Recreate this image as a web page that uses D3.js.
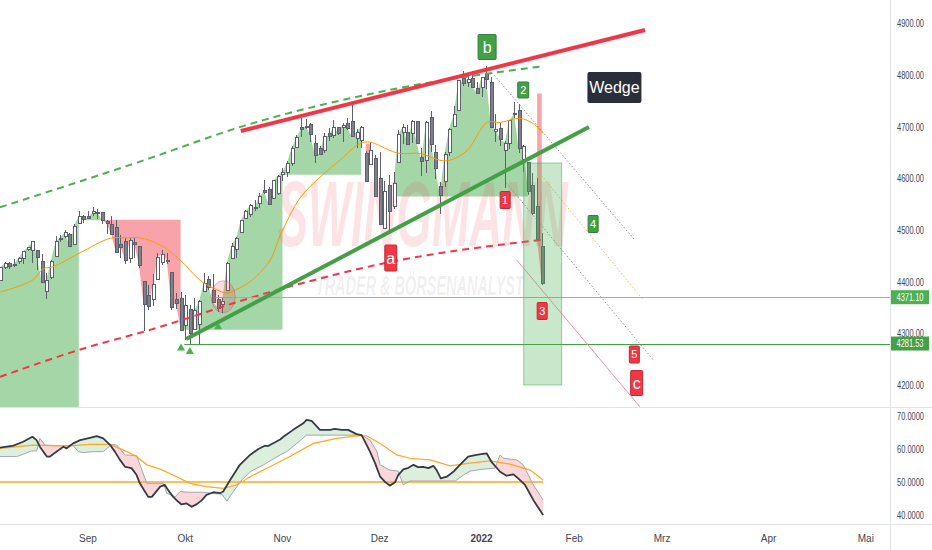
<!DOCTYPE html>
<html><head><meta charset="utf-8">
<script src="https://cdn.jsdelivr.net/npm/d3@7"></script>
<style>
html,body{margin:0;padding:0;background:#fff;overflow:hidden;}
svg{display:block;}
</style></head><body>
<svg id="c" width="932" height="550"></svg>
<script>
// ---------------- DATA ----------------
const startIdx = -20; // bar index of first candle (0 = 1 Sep 2021)
const dates = ["2021-08-04","2021-08-05","2021-08-06","2021-08-09","2021-08-10","2021-08-11","2021-08-12","2021-08-13","2021-08-16","2021-08-17","2021-08-18","2021-08-19","2021-08-20","2021-08-23","2021-08-24","2021-08-25","2021-08-26","2021-08-27","2021-08-30","2021-08-31",
"2021-09-01","2021-09-02","2021-09-03","2021-09-07","2021-09-08","2021-09-09","2021-09-10","2021-09-13","2021-09-14","2021-09-15","2021-09-16","2021-09-17","2021-09-20","2021-09-21","2021-09-22","2021-09-23","2021-09-24","2021-09-27","2021-09-28","2021-09-29","2021-09-30",
"2021-10-01","2021-10-04","2021-10-05","2021-10-06","2021-10-07","2021-10-08","2021-10-11","2021-10-12","2021-10-13","2021-10-14","2021-10-15","2021-10-18","2021-10-19","2021-10-20","2021-10-21","2021-10-22","2021-10-25","2021-10-26","2021-10-27","2021-10-28","2021-10-29",
"2021-11-01","2021-11-02","2021-11-03","2021-11-04","2021-11-05","2021-11-08","2021-11-09","2021-11-10","2021-11-11","2021-11-12","2021-11-15","2021-11-16","2021-11-17","2021-11-18","2021-11-19","2021-11-22","2021-11-23","2021-11-24","2021-11-26","2021-11-29","2021-11-30",
"2021-12-01","2021-12-02","2021-12-03","2021-12-06","2021-12-07","2021-12-08","2021-12-09","2021-12-10","2021-12-13","2021-12-14","2021-12-15","2021-12-16","2021-12-17","2021-12-20","2021-12-21","2021-12-22","2021-12-23","2021-12-27","2021-12-28","2021-12-29","2021-12-30","2021-12-31",
"2022-01-03","2022-01-04","2022-01-05","2022-01-06","2022-01-07","2022-01-10","2022-01-11","2022-01-12","2022-01-13","2022-01-14","2022-01-18","2022-01-19","2022-01-20","2022-01-21"];
const open  = [4415,4404,4429,4437,4436,4442,4446,4464,4462,4462,4441,4383,4411,4450,4485,4490,4493,4474,4515,4529,
4528,4534,4533,4535,4518,4513,4506,4474,4479,4447,4477,4470,4402,4375,4368,4406,4439,4442,4419,4367,4370,
4317,4348,4310,4320,4384,4406,4386,4368,4358,4386,4447,4464,4498,4524,4532,4546,4553,4579,4580,4563,4572,
4610,4613,4630,4662,4700,4702,4707,4670,4659,4656,4689,4684,4701,4700,4708,4712,4679,4675,4650,4628,4640,
4602,4504,4589,4548,4632,4690,4691,4688,4711,4643,4637,4719,4652,4587,4595,4651,4703,4733,4795,4788,4795,4776,
4778,4804,4787,4693,4698,4655,4670,4728,4733,4638,4632,4588,4547,4471];
const high  = [4416,4430,4440,4439,4445,4449,4461,4468,4480,4462,4455,4418,4444,4489,4492,4501,4496,4513,4537,4531,
4537,4545,4541,4536,4521,4529,4520,4492,4486,4486,4486,4471,4402,4395,4416,4457,4463,4457,4419,4379,4382,
4375,4356,4370,4365,4418,4412,4416,4375,4372,4440,4476,4487,4520,4540,4551,4560,4573,4598,4585,4598,4608,
4621,4635,4664,4684,4718,4715,4708,4685,4663,4688,4698,4714,4701,4708,4717,4744,4696,4702,4654,4672,4647,
4652,4595,4608,4613,4694,4706,4705,4713,4712,4660,4712,4731,4666,4593,4651,4698,4740,4791,4808,4805,4808,4787,
4797,4818,4797,4725,4708,4673,4714,4749,4745,4666,4632,4612,4602,4495];
const low   = [4398,4404,4425,4425,4429,4436,4435,4461,4437,4424,4400,4368,4406,4450,4478,4485,4468,4474,4514,4515,
4523,4528,4523,4513,4493,4493,4457,4446,4435,4438,4447,4427,4305,4347,4355,4406,4433,4436,4346,4348,4306,
4289,4279,4310,4278,4384,4386,4361,4342,4341,4386,4447,4447,4497,4524,4526,4537,4544,4570,4552,4561,4568,
4595,4604,4624,4662,4681,4697,4671,4630,4648,4650,4673,4679,4684,4672,4694,4680,4659,4659,4594,4626,4565,
4511,4504,4496,4541,4632,4668,4666,4670,4667,4606,4612,4651,4600,4532,4584,4645,4703,4733,4780,4778,4775,4766,
4759,4774,4700,4671,4663,4582,4658,4717,4650,4614,4568,4531,4483,4395];
const close = [4402,4429,4437,4432,4436,4447,4460,4468,4479,4448,4400,4405,4442,4479,4486,4497,4470,4509,4529,4523,
4524,4537,4535,4520,4514,4493,4459,4469,4443,4481,4474,4433,4358,4354,4396,4449,4455,4443,4353,4360,4308,
4357,4301,4346,4364,4399,4391,4361,4351,4364,4438,4471,4486,4520,4537,4549,4545,4567,4575,4552,4597,4605,
4614,4631,4660,4680,4697,4701,4686,4646,4649,4683,4683,4701,4689,4705,4698,4682,4691,4701,4595,4655,4567,
4513,4577,4538,4592,4686,4701,4668,4712,4669,4635,4710,4668,4621,4568,4649,4697,4725,4791,4786,4793,4778,4766,
4797,4794,4701,4696,4677,4670,4713,4726,4659,4663,4577,4533,4483,4398];

// moving average on price (bar index, price)
const maPts = [[-19,4381],[-12,4404],[-9.7,4426],[-7.6,4430],[-1.7,4457],[4.8,4485],[8.4,4486],[11.2,4486],[15.6,4472],[19.9,4443],[24.2,4404],[27,4389],[30,4379],[32,4386],[35,4401],[39.3,4442],[41.5,4490],[45.8,4563],[50.1,4603],[54.4,4636],[58.7,4668],[60.9,4671],[65.2,4655],[67.4,4649],[71.7,4649],[76,4636],[78.2,4636],[81.9,4655],[86.2,4709],[89,4709],[93.3,4717],[96.1,4707],[98.3,4688]];
// fill zones of the trend indicator
const zoneStart = [-20,-2,3,20,42,60,66,97];
const zoneEnd   = [-2,3,20,42,59,61,95,98];
const zoneLevel = [4100,4520,4521,4308,4608,4668,4566,4765];
const zoneDir   = ["up","up","down","up","up","down","up","down"];
// curved channel lines
const lowerCurve = [[-19,4217],[-1.3,4271],[13.4,4308],[39.3,4381],[65.2,4439],[97.8,4482]];
const upperCurve = [[-19,4545],[13.4,4640],[32.8,4700],[65.2,4772],[98.5,4818]];
// straight trend lines
const wedgeTop = [[33.0,4692.5],[120.3,4887.8]];
const wedgeBottom = [[21.2,4290.3],[108.2,4700.2]];
const levelValues = [4371.10, 4281.53];
const levelStart = [27.5, 20.8];
const projGray1 = [[86.8,4810.5],[118.1,4481.6]];
const projGray2 = [[90.4,4591.4],[122.1,4249.7]];
const projOrange = [[97.0,4617],[119.9,4365.7]];
const projPink = [[92.6,4443],[119.2,4159]];
const boxIdx = [94.1,102.3], boxPrice = [4201.4,4630.6];
const ellipseIdx = [26.6,31.8], ellipsePrice = [4341,4403];
const triIdx = [20.1,22.0,28.1], triPrice = [4274,4267,4315];
const labelText  = ["b","2","1","a","4","3","5","c","Wedge"];
const labelIdx   = [86.2,94.0,90.1,65.4,109.1,98.1,118.0,118.5,113.7];
const labelPrice = [4855,4771.8,4559,4446.9,4512.7,4344.4,4260.3,4205.2,4776.6];
// watermark anchors (bar index, price of baseline)
const wmMainAt = [41,4470], wmSubAt = [49.2,4375];
// RSI pane
const rsiPts = [[-19,60.4],[-16.1,61.0],[-14,62.2],[-12,63.7],[-11.1,62.7],[-10.4,60.7],[-8.9,57.7],[-8.2,57.7],[-6.8,59.2],[-5.3,60.7],[-4.6,60.2],[-3.9,61.0],[-3.2,61.7],[-1.7,62.7],[0.4,63.4],[1.9,63.9],[3.3,63.2],[4.8,61.2],[5.8,59.2],[6.9,56.7],[8,54.6],[9.4,54.2],[10.5,52.1],[11.2,49.6],[13,45.5],[13.8,45.5],[15.6,48.6],[16.6,49.1],[17.3,47.6],[18.4,45.5],[19.5,44.0],[20.2,43.2],[21.3,43.5],[22.4,42.5],[23.5,43.3],[24.6,44.5],[25.6,46.1],[27.1,46.9],[28.5,46.6],[29.2,47.1],[30.7,50.6],[32.8,55.2],[35,58.2],[36.8,60.0],[38.2,61.0],[38.9,60.9],[41.5,62.9],[42.2,63.7],[44.3,65.8],[46.5,67.8],[47.2,68.8],[48.3,68.5],[50.1,65.8],[52.3,65.8],[53.3,66.1],[54.8,65.8],[56.2,65.8],[58,64.5],[59.1,64.2],[60.2,61.2],[60.9,59.2],[62,55.7],[63.1,51.6],[64.1,50.1],[65.2,48.9],[66.3,49.9],[67,52.1],[68.1,53.8],[69.2,54.3],[70.3,55.2],[71.3,54.5],[72.4,54.6],[73.5,54.2],[74.6,54.9],[75.3,53.6],[76.2,51.1],[77.5,51.6],[78.9,53.1],[80.7,55.7],[82.1,57.7],[83.9,58.2],[86.1,58.7],[87.2,56.0],[89,53.1],[90.4,51.9],[91.9,52.3],[92.9,51.1],[94.4,49.1],[96.2,44.5],[98.3,40.0]];
const sigPts = [[-19,57.7],[-15.4,57.7],[-14,58.4],[-12.2,59.4],[-11.1,59.4],[-10.4,63.2],[-9.3,61.2],[-6,61.0],[-3.2,61.0],[-2.1,59.2],[-1,58.9],[1.1,59.2],[3.3,59.2],[5.1,61.4],[6.2,61.2],[8,58.2],[10.5,58.0],[12.7,49.6],[16.3,49.6],[17,46.6],[18.8,45.5],[19.9,47.1],[21.7,46.9],[24.9,46.9],[26.3,46.6],[28.9,46.3],[30,44.2],[31.4,47.1],[33.2,50.6],[35,53.1],[37.9,55.2],[41.5,58.2],[42.9,59.2],[45.1,61.7],[47.2,64.2],[50.1,64.2],[56.6,64.2],[59.1,64.2],[60.9,62.7],[62.4,59.2],[63.1,55.2],[65.2,53.6],[67,53.3],[68.1,49.1],[69.5,50.3],[76.7,50.3],[79.3,50.3],[81.1,52.1],[82.5,53.3],[85.4,53.9],[87.9,54.2],[89,58.2],[89.7,57.2],[92.6,56.7],[94,55.2],[96.2,49.1],[98.3,44.5]];
const rsiMaPts = [[-19,60.2],[-11.8,61.2],[-4.6,60.9],[0.4,61.4],[4.8,61.4],[8.4,59.2],[10.5,57.7],[12.7,55.2],[15.6,53.9],[19.2,51.6],[22,49.6],[25.6,48.6],[29.2,48.1],[32.1,49.1],[35.7,52.1],[39.3,54.6],[43.6,57.7],[48.7,61.7],[53.7,63.2],[58,64.0],[60.2,64.0],[63.1,61.7],[66.7,58.2],[69.5,57.2],[73.9,56.7],[78.2,54.9],[82.5,55.7],[86.8,56.4],[91.1,55.4],[95.5,53.6],[98.3,50.6]];
const rsiLevel = 50;
// axis labels
const monthIdx = [0,21,42,63,85,105,124,147,168];
const monthLabels = ["Sep","Okt","Nov","Dez","2022","Feb","Mrz","Apr","Mai"];
const rsiTicks = [40,50,60,70];

// ---------------- STYLE / LAYOUT ----------------
const GREEN="#4caf50", RED="#f23645";
const mainClipH = 407, plotW = 890;
const labelStyle = {
  "b":{w:18,h:25,fs:16,c:"#43a047"}, "2":{w:11,h:16,fs:11,c:"#43a047"},
  "1":{w:10,h:17,fs:11,c:RED}, "a":{w:12,h:26,fs:16,c:RED},
  "4":{w:10,h:17,fs:11,c:"#43a047"}, "3":{w:10,h:17,fs:11,c:RED},
  "5":{w:10,h:17,fs:11,c:RED}, "c":{w:12,h:25,fs:16,c:RED},
  "Wedge":{w:54,h:31,fs:16,c:"#2a2e39"}
};

const svg = d3.select("#c");
const x = d3.scaleLinear().domain([0,1]).range([88,92.63]);
const y = d3.scaleLinear().domain([4200,4900]).range([385.7,23.7]);
const yr = d3.scaleLinear().domain([40,70]).range([515,416]);
const P = d => [x(d[0]), y(d[1])];

svg.append("rect").attr("width",932).attr("height",550).attr("fill","#fff");
const defs = svg.append("defs");
defs.append("clipPath").attr("id","cm").append("rect").attr("x",0).attr("y",0).attr("width",plotW).attr("height",mainClipH);
defs.append("clipPath").attr("id","cr").append("rect").attr("x",0).attr("y",408).attr("width",plotW).attr("height",116);

const gm = svg.append("g").attr("clip-path","url(#cm)");

// zone fills
zoneStart.forEach((s,k)=>{
  const ids = d3.range(s, zoneEnd[k]+1);
  const area = d3.area().x(i=>x(i)).y0(y(zoneLevel[k])).y1(i=>y(close[i-startIdx]));
  gm.append("path").attr("d", area(ids))
    .attr("fill", zoneDir[k]==="up" ? "#a5d6a7" : (k===zoneStart.length-1 ? "rgba(242,54,69,0.45)" : "#f7a3a9"));
});

// watermark
gm.append("text").attr("x",x(wmMainAt[0])).attr("y",y(wmMainAt[1]))
  .attr("font-family","'Liberation Sans',Arial,sans-serif").attr("font-weight","bold").attr("font-style","italic")
  .attr("font-size",92).attr("textLength",290).attr("lengthAdjust","spacingAndGlyphs")
  .attr("fill","rgba(242,54,69,0.14)").text("SWINGMANN");
gm.append("text").attr("x",x(wmSubAt[0])).attr("y",y(wmSubAt[1]))
  .attr("font-family","'Liberation Sans',Arial,sans-serif").attr("font-weight","bold").attr("font-style","italic")
  .attr("font-size",28).attr("textLength",208).attr("lengthAdjust","spacingAndGlyphs")
  .attr("fill","rgba(0,0,0,0.08)").text("TRADER & BÖRSENANALYST");

// candles
const gc = gm.append("g").attr("shape-rendering","crispEdges");
d3.range(close.length).forEach(k=>{
  const cx = Math.round(x(k+startIdx));
  const up = close[k] >= open[k];
  gc.append("line").attr("x1",cx+0.5).attr("x2",cx+0.5)
    .attr("y1",y(high[k])).attr("y2",y(low[k])).attr("stroke","#5d606b").attr("stroke-width",1);
  const t = y(Math.max(open[k],close[k])), b = y(Math.min(open[k],close[k]));
  gc.append("rect").attr("x",cx-1).attr("y",Math.round(t)).attr("width",3)
    .attr("height",Math.max(1,Math.round(b)-Math.round(t)))
    .attr("fill", up ? "#ffffff" : "#7e818b").attr("stroke","#5d606b").attr("stroke-width",1);
});

// price moving average
gm.append("path").attr("d", d3.line().curve(d3.curveCatmullRom)(maPts.map(P)))
  .attr("fill","none").attr("stroke","#ff9800").attr("stroke-width",1);

// curved channel
gm.append("path").attr("d", d3.line().curve(d3.curveMonotoneX)(lowerCurve.map(P)))
  .attr("fill","none").attr("stroke",RED).attr("stroke-width",2).attr("stroke-dasharray","7,5");
gm.append("path").attr("d", d3.line().curve(d3.curveMonotoneX)(upperCurve.map(P)))
  .attr("fill","none").attr("stroke",GREEN).attr("stroke-width",2).attr("stroke-dasharray","7,5");

// horizontal levels
levelValues.forEach((v,k)=>{
  gm.append("line").attr("x1",x(levelStart[k])).attr("x2",plotW).attr("y1",Math.round(y(v))+0.5).attr("y2",Math.round(y(v))+0.5)
    .attr("stroke", k===0 ? "#81c784" : "#43a047").attr("stroke-width",1);
});

// projections
const seg = (pts,col,dash,w)=> gm.append("line").attr("x1",x(pts[0][0])).attr("y1",y(pts[0][1]))
  .attr("x2",x(pts[1][0])).attr("y2",y(pts[1][1])).attr("stroke",col).attr("stroke-width",w||1)
  .attr("stroke-dasharray",dash||null);
seg(projGray1,"#8d9099","1.5,2");
seg(projGray2,"#8d9099","1.5,2");
seg(projOrange,"#ffb74d","1.5,2");
seg(projPink,"#f48fb1",null,1);

// wedge lines
seg(wedgeTop, RED, null, 4);
seg(wedgeBottom, "#43a047", null, 4);

// target box
gm.append("rect").attr("x",x(boxIdx[0])).attr("y",y(boxPrice[1]))
  .attr("width",x(boxIdx[1])-x(boxIdx[0])).attr("height",y(boxPrice[0])-y(boxPrice[1]))
  .attr("fill","rgba(76,175,80,0.3)").attr("stroke","rgba(76,175,80,0.55)").attr("stroke-width",1);

// ellipse
gm.append("ellipse").attr("cx",(x(ellipseIdx[0])+x(ellipseIdx[1]))/2).attr("cy",(y(ellipsePrice[0])+y(ellipsePrice[1]))/2)
  .attr("rx",(x(ellipseIdx[1])-x(ellipseIdx[0]))/2).attr("ry",(y(ellipsePrice[0])-y(ellipsePrice[1]))/2)
  .attr("fill","rgba(242,54,69,0.18)").attr("stroke","rgba(233,30,99,0.35)").attr("stroke-width",1);

// triangles
triIdx.forEach((t,k)=>{
  const cx=x(t), cy=y(triPrice[k]);
  gm.append("path").attr("d",`M${cx},${cy-4}L${cx+4},${cy+3}L${cx-4},${cy+3}Z`).attr("fill",GREEN);
});

// labels
labelText.forEach((t,k)=>{
  const s = labelStyle[t]; const cx=x(labelIdx[k]), cy=y(labelPrice[k]);
  gm.append("rect").attr("x",cx-s.w/2).attr("y",cy-s.h/2).attr("width",s.w).attr("height",s.h).attr("rx",t==="Wedge"?2:1)
    .attr("fill",s.c).attr("stroke",d3.color(s.c).darker(0.7)).attr("stroke-width",t==="Wedge"?0:1);
  gm.append("text").attr("x",cx).attr("y",cy).attr("dy","0.36em").attr("text-anchor","middle")
    .attr("font-family","'Liberation Sans',Arial,sans-serif").attr("font-size",s.fs).attr("fill","#fff").text(t);
});

// ---------------- RSI PANE ----------------
const gr = svg.append("g").attr("clip-path","url(#cr)");
const R = d => [x(d[0]), yr(d[1])];
const rsiXY = rsiPts.map(R), sigXY = sigPts.map(R);
const poly = d3.line()(rsiXY.concat(sigXY.slice().reverse())) + "Z";
const above = d3.line()(sigXY) + `L${sigXY[sigXY.length-1][0]},0L${sigXY[0][0]},0Z`;
const below = d3.line()(sigXY) + `L${sigXY[sigXY.length-1][0]},600L${sigXY[0][0]},600Z`;
defs.append("clipPath").attr("id","ca").append("path").attr("d",above);
defs.append("clipPath").attr("id","cb").append("path").attr("d",below);
gr.append("g").attr("clip-path","url(#ca)").append("path").attr("d",poly).attr("fill","rgba(76,175,80,0.2)");
gr.append("g").attr("clip-path","url(#cb)").append("path").attr("d",poly).attr("fill","rgba(242,54,69,0.2)");
gr.append("line").attr("x1",0).attr("x2",x(98.3)).attr("y1",yr(rsiLevel)).attr("y2",yr(rsiLevel))
  .attr("stroke","#ffa726").attr("stroke-width",1.5);
gr.append("path").attr("d",d3.line()(sigXY)).attr("fill","none").attr("stroke","#a3a6af").attr("stroke-width",1);
gr.append("path").attr("d",d3.line()(rsiMaPts.map(R))).attr("fill","none").attr("stroke","#ffa726").attr("stroke-width",1.2);
gr.append("path").attr("d",d3.line()(rsiXY)).attr("fill","none").attr("stroke","#363a45").attr("stroke-width",1.8).attr("stroke-linejoin","round");

// ---------------- AXES ----------------
const axisFont = "'Liberation Sans',Arial,sans-serif";
svg.append("line").attr("x1",0).attr("x2",932).attr("y1",407.5).attr("y2",407.5).attr("stroke","#e0e3eb");
svg.append("line").attr("x1",0).attr("x2",932).attr("y1",524.5).attr("y2",524.5).attr("stroke","#e0e3eb");
svg.append("line").attr("x1",890.5).attr("x2",890.5).attr("y1",0).attr("y2",550).attr("stroke","#e0e3eb");

const axText = (g,xx,yy,txt,col,len,anchor)=> g.append("text").attr("x",xx).attr("y",yy).attr("dy","0.35em")
  .attr("font-family",axisFont).attr("font-size",10).attr("fill",col)
  .attr("text-anchor",anchor||"start").attr("textLength",len).attr("lengthAdjust","spacingAndGlyphs").text(txt);

y.ticks(8).forEach(v=> axText(svg,897,y(v),d3.format(".2f")(v),"#434651",27));
levelValues.forEach((v,k)=>{
  const cy = y(v);
  svg.append("rect").attr("x",891).attr("y",cy-7).attr("width",38).attr("height",14).attr("fill", k===0?"#4caf50":"#43a047");
  axText(svg,896.5,cy,d3.format(".2f")(v),"#fff",27);
});
rsiTicks.forEach(v=> axText(svg,897,yr(v),d3.format(".4f")(v),"#434651",27));
monthIdx.forEach((m,k)=>{
  svg.append("text").attr("x",x(m)).attr("y",538).attr("dy","0.35em").attr("text-anchor","middle")
    .attr("font-family",axisFont).attr("font-size",10).attr("font-weight",monthLabels[k]==="2022"?"bold":"normal")
    .attr("fill","#434651").text(monthLabels[k]);
});
</script>
</body></html>
